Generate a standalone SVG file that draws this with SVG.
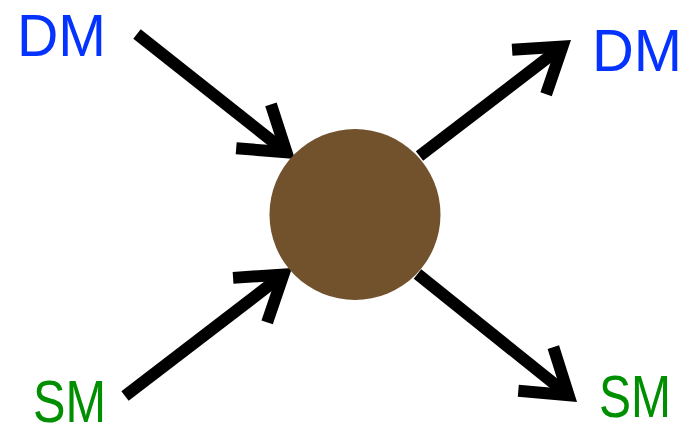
<svg xmlns="http://www.w3.org/2000/svg" width="689" height="427" viewBox="0 0 689 427">
<style>
.lbl{font-family:"Liberation Sans",Arial,sans-serif;font-size:60px;}
.dm{fill:#0433ff;}
.sm{fill:#008f00;}
.edge{stroke:#000;stroke-width:12;fill:none;stroke-linecap:butt;marker-end:url(#head);}
</style>
<defs>
<marker id="head" markerUnits="userSpaceOnUse" orient="auto" overflow="visible" markerWidth="1" markerHeight="1" refX="0" refY="0">
<path d="M-37.8,-28 L4.2,0 L-37.8,28" fill="none" stroke="#000" stroke-width="12" stroke-linejoin="miter" stroke-miterlimit="10"/>
</marker>
</defs>
<rect width="689" height="427" fill="#fff"/>
<g id="connectors">
<line class="edge" x1="137" y1="34" x2="283.2" y2="149.7"/>
<line class="edge" x1="419.5" y1="156" x2="559.1" y2="49.1"/>
<line class="edge" x1="125" y1="396" x2="280.1" y2="277.1"/>
<line class="edge" x1="417.5" y1="274" x2="565.3" y2="392.6"/>
</g>
<g id="center"><circle cx="355" cy="214.5" r="85.5" fill="#71522d"/></g>
<g id="dm-in"><text class="lbl dm" x="17" y="56" textLength="89" lengthAdjust="spacingAndGlyphs">DM</text></g>
<g id="dm-out"><text class="lbl dm" x="592" y="71" textLength="90" lengthAdjust="spacingAndGlyphs">DM</text></g>
<g id="sm-in"><text class="lbl sm" x="33" y="422" textLength="73" lengthAdjust="spacingAndGlyphs">SM</text></g>
<g id="sm-out"><text class="lbl sm" x="599" y="417" textLength="72" lengthAdjust="spacingAndGlyphs">SM</text></g>
</svg>
